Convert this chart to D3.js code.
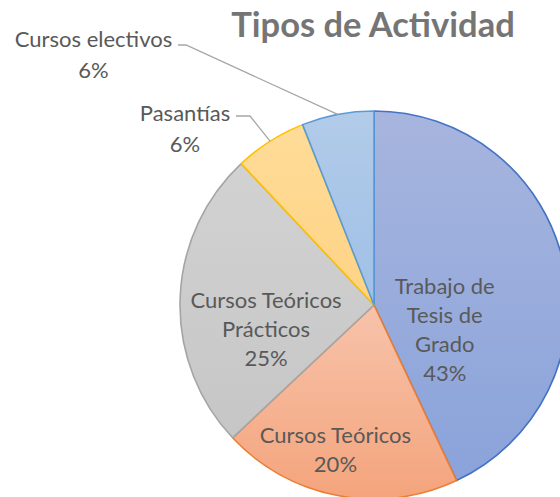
<!DOCTYPE html>
<html>
<head>
<meta charset="utf-8">
<script src="https://cdn.jsdelivr.net/npm/d3@7"></script>
<style>
  body { margin: 0; background: #fff; }
  svg { display: block; font-family: Lato, "Open Sans", sans-serif; }
</style>
</head>
<body>
<div id="chart"></div>
<script>
// data
var categories = ["Trabajo de Tesis de Grado", "Cursos Teóricos", "Cursos Teóricos Prácticos", "Pasantías", "Cursos electivos"];
var values = [43, 20, 25, 6, 6];
var labelLines = [["Trabajo de", "Tesis de", "Grado"], ["Cursos Teóricos"], ["Cursos Teóricos", "Prácticos"], ["Pasantías"], ["Cursos electivos"]];

var width = 560, height = 497;
var cx = 374, cy = 305, radius = 194;

// colours: [top of gradient, bottom of gradient, border]
var colors = [
  ["#a7b5de", "#8aa3da", "#4472c4"],
  ["#f7c3ab", "#f4a47c", "#ed7d31"],
  ["#d2d2d2", "#c6c6c6", "#a5a5a5"],
  ["#fedc98", "#fed385", "#ffc000"],
  ["#b2cbe9", "#9fc0e6", "#5b9bd5"]
];

// label placement in polar coords (distance from centre, angle in degrees from 12 o'clock)
var insideLabels = {
  0: { r: 75, a: 109.4 },
  1: { r: 150, a: 194.9 },
  2: { r: 110.6, a: 257.5 }
};
// outside labels: text centre, leader start and bend
var outsideLabels = {
  3: { x: 185, y: 113, start: [236, 116], bend: [250, 116] },
  4: { x: 93.5, y: 39, start: [178, 45], bend: [186, 45] }
};

var svg = d3.select("#chart").append("svg")
  .attr("width", width)
  .attr("height", height);

var defs = svg.append("defs");
colors.forEach(function (c, i) {
  var g = defs.append("linearGradient")
    .attr("id", "grad" + i)
    .attr("x1", 0).attr("y1", 0).attr("x2", 0).attr("y2", 1);
  g.append("stop").attr("offset", "0%").attr("stop-color", c[0]);
  g.append("stop").attr("offset", "100%").attr("stop-color", c[1]);
});

var pie = d3.pie().sort(null).value(function (d) { return d; });
var arcs = pie(values);
var arc = d3.arc().innerRadius(0).outerRadius(radius);

var g = svg.append("g").attr("transform", "translate(" + cx + "," + cy + ")");

g.selectAll("path.slice")
  .data(arcs)
  .enter()
  .append("path")
  .attr("class", "slice")
  .attr("d", arc)
  .attr("fill", function (d, i) { return "url(#grad" + i + ")"; })
  .attr("stroke", function (d, i) { return colors[i][2]; })
  .attr("stroke-width", 1.6)
  .attr("stroke-linejoin", "round");

// title
svg.append("text")
  .attr("x", 373)
  .attr("y", 37)
  .attr("text-anchor", "middle")
  .attr("font-size", 34.5)
  .attr("font-weight", "bold")
  .attr("fill", "#757575")
  .text("Tipos de Actividad");

var fontSize = 22, lineH = 29;

function polar(r, deg) {
  var a = deg * Math.PI / 180;
  return [r * Math.sin(a), -r * Math.cos(a)];
}

arcs.forEach(function (d, i) {
  var pct = Math.round(values[i] / d3.sum(values) * 100) + "%";
  if (insideLabels[i]) {
    var p = polar(insideLabels[i].r, insideLabels[i].a);
    var lines = labelLines[i].concat([pct]);
    var t = g.append("text")
      .attr("text-anchor", "middle")
      .attr("font-size", fontSize)
      .attr("fill", "#595959");
    var y0 = p[1] - (lines.length - 1) * lineH / 2;
    lines.forEach(function (l, k) {
      t.append("tspan")
        .attr("x", p[0])
        .attr("y", y0 + k * lineH)
        .attr("dy", "0.35em")
        .text(l);
    });
  } else if (outsideLabels[i]) {
    var o = outsideLabels[i];
    var mid = (d.startAngle + d.endAngle) / 2;
    var ex = cx + radius * Math.sin(mid), ey = cy - radius * Math.cos(mid);
    svg.append("polyline")
      .attr("points", [o.start, o.bend, [ex, ey]].map(function (q) { return q.join(","); }).join(" "))
      .attr("fill", "none")
      .attr("stroke", "#a6a6a6")
      .attr("stroke-width", 1.3);
    var t2 = svg.append("text")
      .attr("text-anchor", "middle")
      .attr("font-size", fontSize)
      .attr("fill", "#595959");
    [labelLines[i][0], pct].forEach(function (l, k) {
      t2.append("tspan")
        .attr("x", o.x)
        .attr("y", o.y + k * 31)
        .attr("dy", "0.35em")
        .text(l);
    });
  }
});
</script>
</body>
</html>
